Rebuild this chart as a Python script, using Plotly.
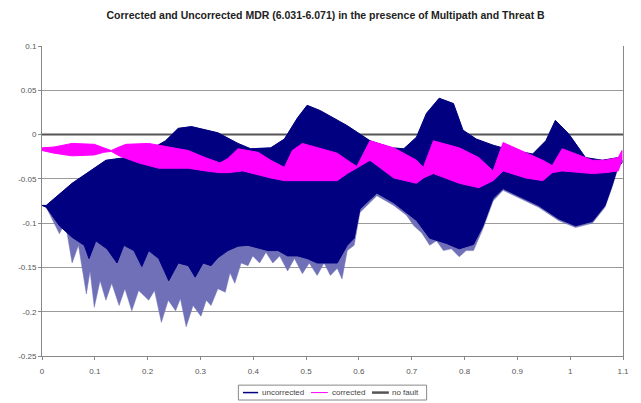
import plotly.graph_objects as go

# ---- data (envelopes of the oscillating signals) ----
unc_upper_x = [0.000, 0.008, 0.057, 0.121, 0.159, 0.202, 0.234, 0.258, 0.283, 0.333, 0.371, 0.395,
               0.433, 0.459, 0.484, 0.502, 0.527, 0.559, 0.578, 0.621, 0.662, 0.685, 0.709, 0.728,
               0.752, 0.779, 0.797, 0.822, 0.854, 0.878, 0.929, 0.954, 0.972, 0.997, 1.029, 1.061,
               1.091, 1.098]
unc_upper_y = [-0.080, -0.080, -0.055, -0.029, -0.026, -0.018, -0.007, 0.007, 0.009, 0.002, -0.010, -0.016,
               -0.015, -0.005, 0.019, 0.033, 0.027, 0.016, 0.010, -0.007, -0.015, -0.016, -0.003, 0.024,
               0.041, 0.035, 0.005, -0.005, -0.012, -0.016, -0.022, -0.007, 0.016, 0.001, -0.026, -0.029,
               -0.026, -0.029]

# lower edge of the dense (dark) part of the uncorrected trace
unc_dark_low_x = [0.000, 0.008, 0.033, 0.057, 0.080, 0.089, 0.102, 0.123, 0.142, 0.155, 0.174, 0.189,
                  0.202, 0.221, 0.240, 0.258, 0.277, 0.290, 0.305, 0.320, 0.333, 0.352, 0.371, 0.390,
                  0.409, 0.428, 0.447, 0.465, 0.484, 0.502, 0.521, 0.540, 0.559, 0.578, 0.591, 0.602,
                  0.634, 0.666, 0.690, 0.709, 0.734, 0.766, 0.790, 0.817, 0.835, 0.854, 0.873, 0.903,
                  0.940, 0.978, 1.010, 1.042, 1.066, 1.079, 1.091, 1.098]
unc_dark_low_y = [-0.080, -0.082, -0.103, -0.116, -0.125, -0.140, -0.120, -0.129, -0.145, -0.125, -0.131, -0.149,
                  -0.131, -0.140, -0.165, -0.145, -0.148, -0.161, -0.145, -0.148, -0.139, -0.131, -0.126, -0.125,
                  -0.128, -0.131, -0.131, -0.137, -0.137, -0.140, -0.145, -0.145, -0.145, -0.125, -0.117, -0.084,
                  -0.066, -0.077, -0.088, -0.097, -0.117, -0.123, -0.129, -0.124, -0.103, -0.072, -0.061, -0.069,
                  -0.080, -0.095, -0.103, -0.098, -0.080, -0.058, -0.035, -0.032]

# tips of the sparse (light) spikes of the uncorrected trace
unc_spike_x = [0.000, 0.008, 0.033, 0.044, 0.057, 0.069, 0.084, 0.091, 0.099, 0.110, 0.121, 0.132,
               0.146, 0.157, 0.170, 0.183, 0.202, 0.213, 0.226, 0.239, 0.253, 0.262, 0.273, 0.286,
               0.301, 0.311, 0.320, 0.333, 0.347, 0.356, 0.365, 0.377, 0.390, 0.399, 0.412, 0.424,
               0.437, 0.450, 0.465, 0.478, 0.493, 0.506, 0.521, 0.534, 0.546, 0.559, 0.568, 0.578,
               0.591, 0.602, 0.634, 0.666, 0.690, 0.704, 0.719, 0.734, 0.747, 0.760, 0.775, 0.790,
               0.803, 0.817, 0.835, 0.854, 0.873, 0.903, 0.940, 0.978, 1.010, 1.042, 1.066, 1.079,
               1.091, 1.098]
unc_spike_y = [-0.080, -0.082, -0.112, -0.099, -0.145, -0.125, -0.180, -0.154, -0.195, -0.165, -0.187, -0.168,
               -0.193, -0.174, -0.199, -0.176, -0.187, -0.176, -0.212, -0.187, -0.199, -0.185, -0.217, -0.193,
               -0.205, -0.187, -0.193, -0.174, -0.178, -0.156, -0.168, -0.145, -0.148, -0.137, -0.145, -0.133,
               -0.145, -0.137, -0.154, -0.140, -0.157, -0.145, -0.159, -0.145, -0.159, -0.151, -0.163, -0.131,
               -0.125, -0.088, -0.069, -0.080, -0.091, -0.103, -0.111, -0.125, -0.120, -0.131, -0.129, -0.138,
               -0.131, -0.131, -0.106, -0.075, -0.063, -0.071, -0.082, -0.097, -0.105, -0.100, -0.082, -0.060,
               -0.037, -0.032]

cor_upper_x = [0.000, 0.023, 0.057, 0.099, 0.117, 0.131, 0.146, 0.159, 0.202, 0.239, 0.277, 0.309,
               0.337, 0.352, 0.371, 0.409, 0.433, 0.459, 0.474, 0.493, 0.521, 0.559, 0.578, 0.596,
               0.621, 0.666, 0.709, 0.722, 0.741, 0.790, 0.827, 0.854, 0.873, 0.916, 0.948, 0.966,
               0.985, 1.042, 1.066, 1.091, 1.098]
cor_upper_y = [-0.015, -0.014, -0.010, -0.011, -0.015, -0.018, -0.014, -0.011, -0.010, -0.014, -0.018, -0.026,
               -0.032, -0.027, -0.016, -0.020, -0.029, -0.037, -0.018, -0.010, -0.015, -0.021, -0.029, -0.036,
               -0.007, -0.015, -0.029, -0.037, -0.007, -0.015, -0.026, -0.041, -0.009, -0.021, -0.029, -0.035,
               -0.016, -0.029, -0.029, -0.026, -0.018]
cor_lower_x = [0.000, 0.023, 0.057, 0.099, 0.117, 0.131, 0.146, 0.183, 0.221, 0.277, 0.309, 0.337,
               0.352, 0.380, 0.433, 0.459, 0.484, 0.521, 0.559, 0.578, 0.596, 0.621, 0.666, 0.709,
               0.722, 0.741, 0.790, 0.827, 0.854, 0.873, 0.916, 0.948, 0.966, 0.985, 1.042, 1.066,
               1.091, 1.098]
cor_lower_y = [-0.018, -0.021, -0.024, -0.023, -0.020, -0.019, -0.024, -0.032, -0.038, -0.038, -0.041, -0.043,
               -0.043, -0.041, -0.049, -0.052, -0.052, -0.052, -0.052, -0.044, -0.038, -0.029, -0.049, -0.055,
               -0.049, -0.044, -0.055, -0.060, -0.052, -0.041, -0.049, -0.052, -0.043, -0.041, -0.044, -0.043,
               -0.041, -0.029]

nofault_x = [0.0, 1.1]
nofault_y = [0.0, 0.0]

series_names = ["uncorrected", "corrected", "no fault"]
y_ticks = [0.1, 0.05, 0, -0.05, -0.1, -0.15, -0.2, -0.25]
y_tick_text = ["0.1", "0.05", "0", "-0.05", "-0.1", "-0.15", "-0.2", "-0.25"]
x_ticks = [0, 0.1, 0.2, 0.3, 0.4, 0.5, 0.6, 0.7, 0.8, 0.9, 1.0, 1.1]
x_tick_text = ["0", "0.1", "0.2", "0.3", "0.4", "0.5", "0.6", "0.7", "0.8", "0.9", "1", "1.1"]

NAVY = "#000080"
LIGHT_NAVY = "rgb(112,112,184)"
MAGENTA = "#FF00FF"
GREY = "#555555"
FONT = "Liberation Sans, Arial, sans-serif"

def band(xu, yu, xl, yl):
    return list(xu) + list(reversed(xl)), list(yu) + list(reversed(yl))

fig = go.Figure()

# no fault (drawn first, behind)
fig.add_trace(go.Scatter(x=nofault_x, y=nofault_y, mode="lines", name=series_names[2],
                         line=dict(color=GREY, width=2), showlegend=False, hoverinfo="skip"))

# uncorrected: sparse spikes, then dense part
bx, by = band(unc_upper_x, unc_upper_y, unc_spike_x, unc_spike_y)
fig.add_trace(go.Scatter(x=bx, y=by, mode="lines", fill="toself", fillcolor=LIGHT_NAVY,
                         line=dict(color=LIGHT_NAVY, width=0.5), showlegend=False, hoverinfo="skip"))
bx, by = band(unc_upper_x, unc_upper_y, unc_dark_low_x, unc_dark_low_y)
fig.add_trace(go.Scatter(x=bx, y=by, mode="lines", fill="toself", fillcolor=NAVY, name=series_names[0],
                         line=dict(color=NAVY, width=1), showlegend=False, hoverinfo="skip"))

# corrected
bx, by = band(cor_upper_x, cor_upper_y, cor_lower_x, cor_lower_y)
fig.add_trace(go.Scatter(x=bx, y=by, mode="lines", fill="toself", fillcolor=MAGENTA, name=series_names[1],
                         line=dict(color=MAGENTA, width=1), showlegend=False, hoverinfo="skip"))

# ---- hand-made legend box below the plot (paper coordinates) ----
leg_y = -0.118
shapes = [dict(type="rect", xref="paper", yref="paper", x0=0.338, x1=0.662, y0=-0.142, y1=-0.094,
               line=dict(color="#888888", width=1), fillcolor="white", layer="above")]
annotations = []
leg_items = [  # (sample x0, sample x1, text x, colour, width)
    (0.346, 0.372, 0.376, NAVY, 1.5),
    (0.463, 0.492, 0.495, MAGENTA, 1),
    (0.568, 0.597, 0.599, GREY, 2.5),
]
for name, (sx0, sx1, tx, col, w) in zip(series_names, leg_items):
    shapes.append(dict(type="line", xref="paper", yref="paper", x0=sx0, x1=sx1, y0=leg_y, y1=leg_y,
                       line=dict(color=col, width=w), layer="above"))
    annotations.append(dict(text=name, xref="paper", yref="paper", x=tx, y=leg_y, xanchor="left",
                            yanchor="middle", showarrow=False,
                            font=dict(family=FONT, size=8, color="#444444")))

fig.update_layout(
    width=641, height=403,
    margin=dict(l=42, r=13, t=46, b=47),
    paper_bgcolor="white", plot_bgcolor="white",
    font=dict(family=FONT, size=8, color="#444444"),
    title=dict(text="<b>Corrected and Uncorrected MDR (6.031-6.071) in the presence of Multipath and Threat B</b>",
               x=0.508, xanchor="center", y=0.963, yanchor="middle",
               font=dict(family=FONT, size=10.5, color="#222222")),
    xaxis=dict(range=[0, 1.1], tickvals=x_ticks, ticktext=x_tick_text, showgrid=False,
               showline=True, linecolor="#888888", linewidth=1, mirror=False,
               ticks="outside", ticklen=3, tickcolor="#888888", zeroline=False,
               ticklabelstandoff=4, tickfont=dict(size=8, color="#555555")),
    yaxis=dict(range=[-0.25, 0.1], tickvals=y_ticks, ticktext=y_tick_text, showgrid=True,
               gridcolor="#9a9a9a", gridwidth=1, showline=True, linecolor="#888888", linewidth=1,
               mirror=True, ticks="outside", ticklen=3, tickcolor="#888888", zeroline=False,
               tickfont=dict(size=8, color="#555555")),
    shapes=shapes,
    annotations=annotations,
    showlegend=False,
)

fig.write_html("out.html")
